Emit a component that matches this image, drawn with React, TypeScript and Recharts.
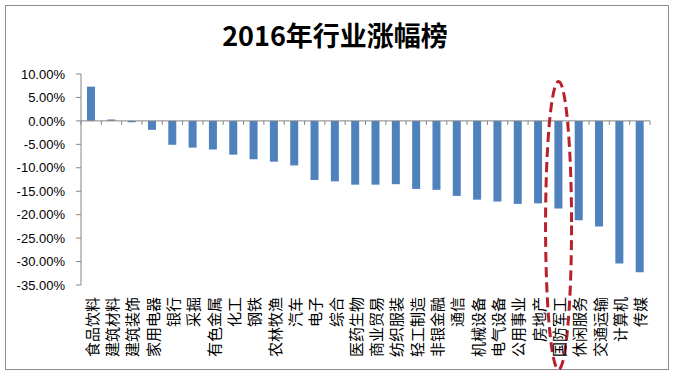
import React from "react";
import { BarChart, Bar, XAxis, YAxis, ReferenceLine, ReferenceDot } from "recharts";

const industries = [
    "食品饮料", "建筑材料", "建筑装饰", "家用电器", "银行", "采掘", "有色金属", "化工",
    "钢铁", "农林牧渔", "汽车", "电子", "综合", "医药生物", "商业贸易", "纺织服装",
    "轻工制造", "非银金融", "通信", "机械设备", "电气设备", "公用事业", "房地产", "国防军工",
    "休闲服务", "交通运输", "计算机", "传媒",
];

// 2016 change, %
const changes = [
    7.3, 0.3, -0.3, -1.9, -5.1, -5.7, -6.1, -7.2,
    -8.2, -8.7, -9.5, -12.6, -12.9, -13.6, -13.6, -13.5,
    -14.5, -14.7, -16.0, -16.8, -17.2, -17.7, -17.6, -18.7,
    -21.2, -22.5, -30.4, -32.3,
];

const yTicks = [10, 5, 0, -5, -10, -15, -20, -25, -30, -35];

const highlighted = "国防军工";
const highlightCenter = -22.3;

const data = industries.map((name, i) => ({ name, change: changes[i] }));

const AXIS = "#868686";
const LABEL_FONT = "'Noto Sans CJK SC', sans-serif";

const CategoryTick = (props: any) => {
    const { x, y, payload } = props;
    return (
        <text
            x={x}
            y={y}
            transform={`rotate(-90, ${x}, ${y})`}
            textAnchor="end"
            dominantBaseline="central"
            fontSize={15}
            fontFamily={LABEL_FONT}
            fill="#000"
        >
            {payload.value}
        </text>
    );
};

// zero line with Excel-style tick marks between categories
const ZeroLine = (props: any) => {
    const { x1, y1, x2 } = props;
    const n = industries.length;
    const step = (x2 - x1) / n;
    const marks = [];
    for (let i = 0; i <= n; i++) {
        const x = x1 + step * i;
        marks.push(<line key={i} x1={x} x2={x} y1={y1} y2={y1 + 4} stroke={AXIS} strokeWidth={1} />);
    }
    return (
        <g>
            <line x1={x1} x2={x2} y1={y1} y2={y1} stroke={AXIS} strokeWidth={1} />
            {marks}
        </g>
    );
};

const Ellipse = (props: any) => {
    const { cx, cy } = props;
    return (
        <ellipse
            cx={cx}
            cy={cy}
            rx={13}
            ry={144}
            fill="none"
            stroke="#B8202C"
            strokeWidth={3}
            strokeDasharray="10 5"
        />
    );
};

export default function App() {
    return (
        <div style={{ position: "absolute", left: 0, top: 0, width: 676, height: 379, background: "#fff", overflow: "hidden" }}>
            <div
                style={{
                    position: "absolute",
                    left: 5,
                    top: 5,
                    width: 662,
                    height: 363,
                    border: "1px solid #8c8c8c",
                }}
            />
            <div
                style={{
                    position: "absolute",
                    left: 0,
                    top: 16,
                    width: 670,
                    textAlign: "center",
                    fontFamily: LABEL_FONT,
                    fontWeight: "bold",
                    fontSize: 27,
                    lineHeight: "38px",
                    color: "#000",
                }}
            >
                2016年行业涨幅榜
            </div>
            <div style={{ position: "absolute", left: 0, top: 0 }}>
                <BarChart
                    width={676}
                    height={379}
                    data={data}
                    margin={{ top: 74, right: 26, left: 0, bottom: 10 }}
                >
                    <XAxis
                        dataKey="name"
                        interval={0}
                        axisLine={false}
                        tickLine={false}
                        tickSize={6}
                        tickMargin={6}
                        height={84}
                        tick={<CategoryTick />}
                    />
                    <YAxis
                        width={81}
                        domain={[-35, 10]}
                        ticks={yTicks}
                        interval={0}
                        tickFormatter={(v: number) => `${v.toFixed(2)}%`}
                        axisLine={{ stroke: AXIS }}
                        tickLine={{ stroke: AXIS }}
                        tickSize={5}
                        tickMargin={11}
                        tick={{ fill: "#000", fontSize: 13, fontFamily: "'Liberation Sans', Arial, sans-serif" }}
                    />
                    <Bar dataKey="change" fill="#4F81BD" barSize={8} isAnimationActive={false} />
                    <ReferenceLine y={0} shape={<ZeroLine />} />
                    <ReferenceDot
                        x={highlighted}
                        y={highlightCenter}
                        ifOverflow="visible"
                        shape={<Ellipse />}
                    />
                </BarChart>
            </div>
        </div>
    );
}
